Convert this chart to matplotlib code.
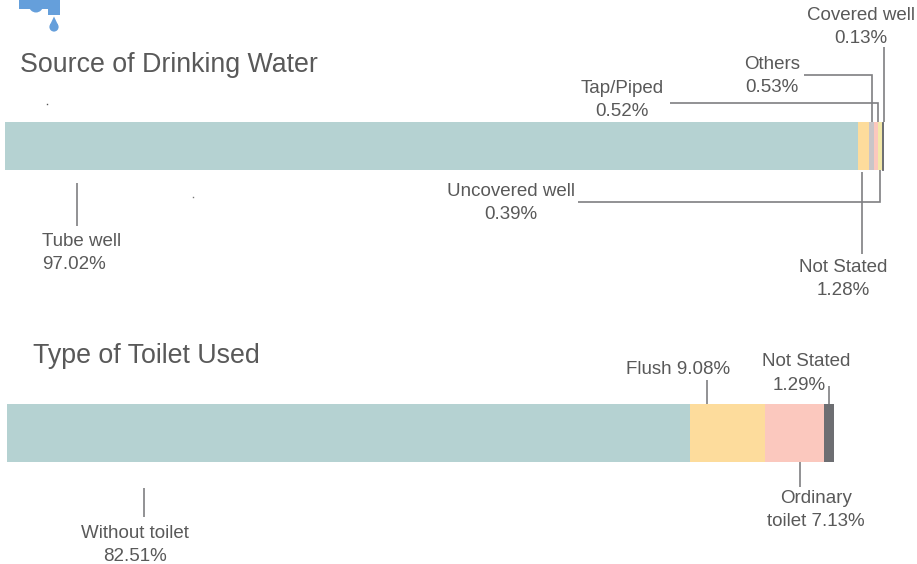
import matplotlib
matplotlib.use('Agg')
import matplotlib.pyplot as plt
from matplotlib.patches import Polygon, Circle, Rectangle

W, H = 917, 564

# top bar, in the order it is stacked
water_names = ['Tube well', 'Not Stated', 'Others', 'Tap/Piped', 'Uncovered well', 'Covered well']
water_values = [97.02, 1.28, 0.53, 0.52, 0.39, 0.13]
water_colors = ['#b5d2d2', '#fddc9c', '#c9c5c8', '#fbc8be', '#f3e8a8', '#6d6e72']

# bottom bar
toilet_names = ['Without toilet', 'Flush', 'Ordinary toilet', 'Not Stated']
toilet_values = [82.51, 9.08, 7.13, 1.29]
toilet_colors = ['#b5d2d2', '#fddc9c', '#fbc8be', '#6d6e72']

plt.rcParams['font.family'] = ['Liberation Sans', 'DejaVu Sans']
TEXT = '#595959'
LINE = '#7f7f82'
BLUE = '#659fdb'

fig = plt.figure(figsize=(W / 100, H / 100), dpi=100, facecolor='white')


def bar_axes(x0, y0, x1, y1, total):
    # axes placed by pixel box, x axis is in percent
    ax = fig.add_axes([x0 / W, 1 - y1 / H, (x1 - x0) / W, (y1 - y0) / H])
    ax.set_xlim(0, total)
    ax.set_ylim(0, 1)
    ax.axis('off')
    return ax


def stacked(ax, values, colors):
    left = 0
    for v, c in zip(values, colors):
        ax.barh(0.5, v, left=left, height=1, color=c, linewidth=0)
        left += v


ax1 = bar_axes(5, 122, 883, 170, sum(water_values))
stacked(ax1, water_values, water_colors)
# last sliver is too thin to show otherwise
ax1.patches[-1].set(edgecolor=water_colors[-1], linewidth=0.7, clip_on=False)
ax2 = bar_axes(7, 404, 834.5, 462, sum(toilet_values))
stacked(ax2, toilet_values, toilet_colors)

# overlay in pixel coordinates for the labels and leader lines
ov = fig.add_axes([0, 0, 1, 1], zorder=5)
ov.set_xlim(0, W)
ov.set_ylim(H, 0)
ov.axis('off')
ov.patch.set_alpha(0)


def leader(xs, ys):
    ov.plot(xs, ys, color=LINE, lw=1.2, solid_capstyle='butt', solid_joinstyle='miter')


def label(x, y, s, size=13.5, ha='center'):
    ov.text(x, y, s, fontsize=size, color=TEXT, ha=ha, va='center', linespacing=1.42)


label(20, 65, 'Source of Drinking Water', size=19.3, ha='left')
label(33, 356, 'Type of Toilet Used', size=19.3, ha='left')

label(42, 253, 'Tube well\n97.02%', ha='left')
label(622, 100, 'Tap/Piped\n0.52%')
label(772, 76, 'Others\n0.53%')
label(861, 27, 'Covered well\n0.13%')
label(511, 203, 'Uncovered well\n0.39%')
label(843, 279, 'Not Stated\n1.28%')
label(135, 545, 'Without toilet\n82.51%')
label(678, 370, 'Flush 9.08%')
label(806, 362, 'Not Stated')
label(799, 385, '1.29%')
label(816, 510, 'Ordinary\ntoilet 7.13%')

leader([77, 77], [183, 226])
leader([670, 878, 878], [102.5, 102.5, 122])
leader([804, 872, 872], [75, 75, 122])
leader([884.3, 884.3], [47, 122])
leader([578, 880, 880], [202, 202, 170])
leader([862, 862], [172, 254])
leader([144, 144], [488, 517])
leader([707, 707], [380, 404])
leader([829, 829], [386, 404])
leader([800, 800], [462, 487])

# tap icon, cut off by the top edge
ov.add_patch(Rectangle((19, 0), 40, 9, color=BLUE, lw=0))
ov.add_patch(Circle((36, 5.5), 7, color=BLUE, lw=0))
ov.add_patch(Rectangle((48, 0), 11.5, 14.5, color=BLUE, lw=0))
ov.add_patch(Rectangle((47.5, 10), 12.5, 4.5, color=BLUE, lw=0))
ov.add_patch(Circle((54, 27), 4.6, color=BLUE, lw=0))
ov.add_patch(Polygon([(54, 16.5), (49.7, 25.5), (58.3, 25.5)], color=BLUE, lw=0))

# stray specks
ov.plot([46.5], [103.5], marker='s', ms=1, color='#555555', mew=0)
ov.plot([192.5], [197], marker='s', ms=1, color='#777777', mew=0)

fig.savefig('out.png', dpi=100, facecolor='white')
